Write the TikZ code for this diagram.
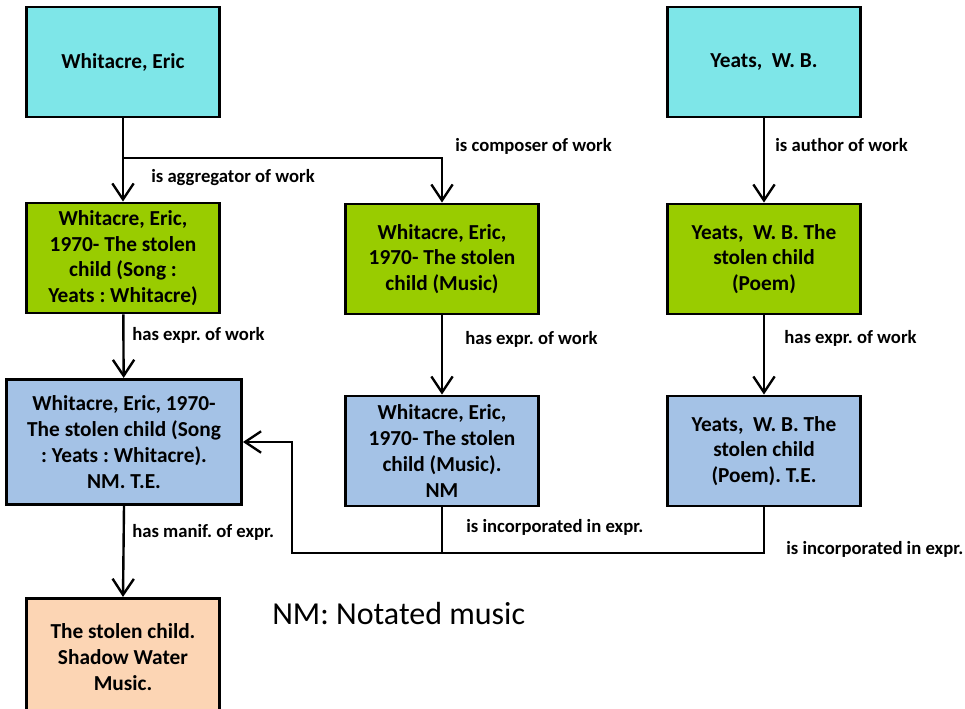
\documentclass[tikz,border=0pt]{standalone}
\usepackage{fontspec}
\setmainfont{Carlito}
\usetikzlibrary{arrows.meta}

\definecolor{agentcol}{RGB}{126,230,232}
\definecolor{workcol}{RGB}{153,204,0}
\definecolor{exprcol}{RGB}{164,194,230}
\definecolor{manifcol}{RGB}{252,213,180}

\tikzset{
  box/.style={draw,line width=2.1pt,align=center,inner sep=2pt,
    font=\fontsize{16}{19.3}\selectfont\bfseries,
    minimum width=144.75pt,minimum height=82.5pt},
  lbl/.style={anchor=west,inner sep=0pt,font=\fontsize{14}{16}\selectfont\bfseries},
  conn/.style={line width=1.8pt},
  arr/.style={conn,-{Straight Barb[length=12pt,width=16pt]}}
}

\begin{document}
\frenchspacing
\begin{tikzpicture}[x=0.75pt,y=-0.75pt]
\useasboundingbox (0,0) rectangle (965,708);

\node[box,fill=agentcol] (whit) at (123,62) {Whitacre, Eric};
\node[box,fill=agentcol] (yeats) at (764,62) {Yeats,\ \ W. B.};

\node[box,fill=workcol] (wsong) at (123,258) {Whitacre, Eric,\\1970- The stolen\\child (Song :\\Yeats : Whitacre)};
\node[box,fill=workcol] (wmusic) at (442,259) {Whitacre, Eric,\\1970- The stolen\\child (Music)};
\node[box,fill=workcol] (ypoem) at (764,259) {Yeats,\ \ W. B. The\\stolen child\\(Poem)};

\node[box,fill=exprcol,minimum width=176.25pt,minimum height=94pt] (esong) at (124,442) {Whitacre, Eric, 1970-\\The stolen child (Song\\: Yeats : Whitacre).\\NM. T.E.};
\node[box,fill=exprcol] (emusic) at (442,451) {Whitacre, Eric,\\1970- The stolen\\child (Music).\\NM};
\node[box,fill=exprcol] (epoem) at (764,451) {Yeats,\ \ W. B. The\\stolen child\\(Poem). T.E.};

\node[box,fill=manifcol,minimum height=88pt] (manif) at (123,657) {The stolen child.\\Shadow Water\\Music.};

\node[anchor=west,inner sep=0pt,font=\fontsize{24}{28}\selectfont] (key) at (272,614) {NM: Notated music};

% work level
\coordinate (j1) at (123,158);
\draw[conn] (whit.south) -- (j1);
\draw[arr] (j1) -- (wsong.north);
\draw[arr] (j1) -| (wmusic.north);
\draw[arr] (yeats) -- (ypoem);
\node[lbl] (l1) at (151,178) {is aggregator of work};
\node[lbl] (l2) at (455,146) {is composer of work};
\node[lbl] (l3) at (775,145) {is author of work};

% expressions
\draw[arr] (wsong) -- (esong);
\draw[arr] (wmusic) -- (emusic);
\draw[arr] (ypoem) -- (epoem);
\foreach \x/\y [count=\i] in {132/335,465/339,784/338}
  \node[lbl] (he\i) at (\x,\y) {has expr. of work};

% manifestation
\draw[arr] (esong.south) -- (manif.north);
\node[lbl] (l4) at (132,532) {has manif. of expr.};

% incorporated
\coordinate (j2) at (442,553);
\coordinate (j3) at (292,553);
\draw[conn] (emusic.south) -- (j2);
\draw[arr] (epoem.south) |- (j3) |- (esong.east);
\node[lbl] (l5) at (466,527) {is incorporated in expr.};
\node[lbl] (l6) at (786,549) {is incorporated in expr.};

\end{tikzpicture}
\end{document}
